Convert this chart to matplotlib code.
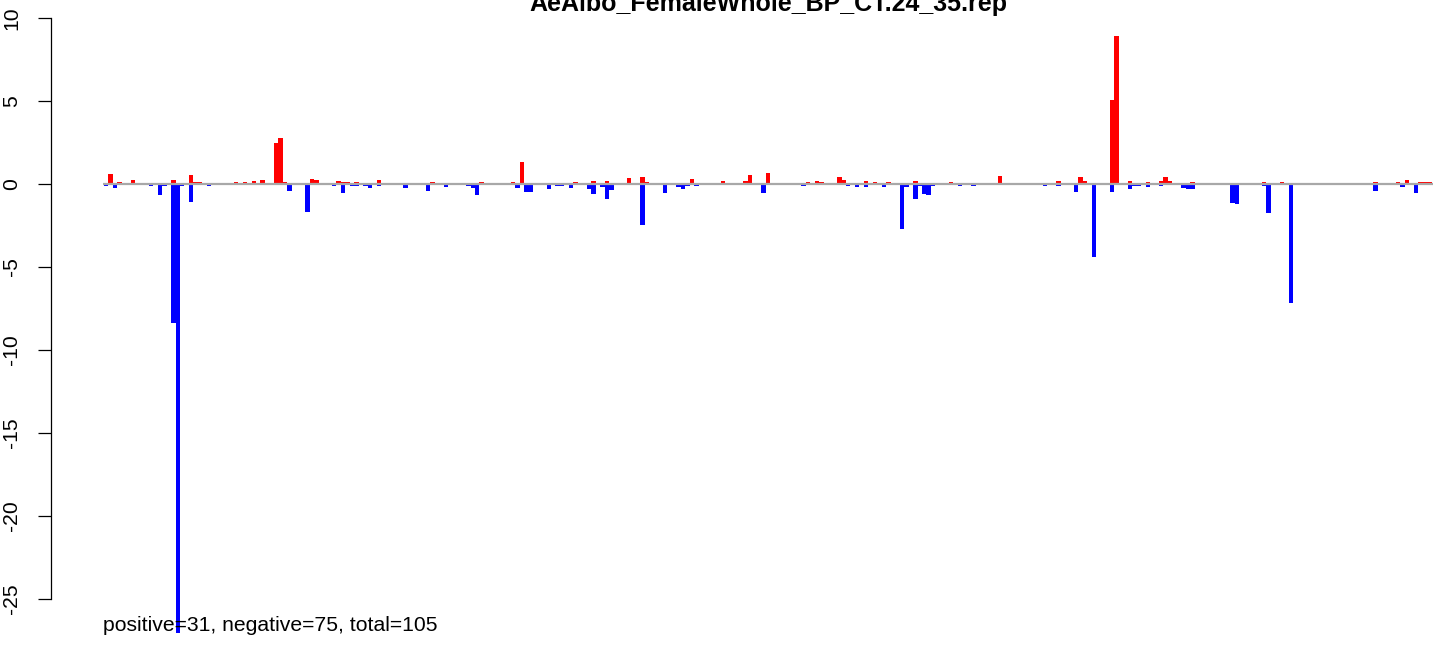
import matplotlib
matplotlib.use("Agg")
import matplotlib.pyplot as plt
import numpy as np

plt.rcParams['font.family'] = ['Liberation Sans', 'DejaVu Sans']
plt.rcParams['axes.unicode_minus'] = False

title = "AeAlbo_FemaleWhole_BP_CT.24_35.rep"
note = "positive=31, negative=75, total=105"
n_slots = 297

# positive (red) bars: slot index -> value
pos_idx = [1, 3, 6, 15, 19, 20, 21, 29, 31, 33, 35, 38, 39, 40, 46, 47,
           52, 53, 54, 56, 61, 73, 84, 91, 93,
           105, 109, 112, 117, 120, 121, 131, 138, 143, 144,
           148, 157, 159, 160, 164, 165, 170, 172, 175, 181, 189,
           200, 213, 218, 219, 225, 226, 229, 233, 236, 237, 238, 243,
           259, 263, 284, 289, 291, 294, 295, 296]
pos_val = [0.60, 0.12, 0.22, 0.22, 0.52, 0.12, 0.12, 0.12, 0.12, 0.18, 0.24, 2.47, 2.77, 0.12, 0.28, 0.22,
           0.16, 0.10, 0.10, 0.10, 0.22, 0.10, 0.10, 0.10, 1.31,
           0.10, 0.16, 0.16, 0.34, 0.40, 0.10, 0.28, 0.16, 0.16, 0.52,
           0.64, 0.10, 0.16, 0.10, 0.40, 0.22, 0.16, 0.10, 0.10, 0.16, 0.10,
           0.46, 0.16, 0.40, 0.16, 5.05, 8.90, 0.16, 0.10, 0.16, 0.40, 0.16, 0.10,
           0.10, 0.10, 0.10, 0.10, 0.22, 0.10, 0.10, 0.10]

# negative (blue) bars: slot index -> value
neg_idx = [0, 2, 10, 12, 13, 15, 16, 17, 19, 23, 41, 45,
           51, 53, 55, 56, 58, 59, 61, 67, 72, 76, 81, 82, 83, 92, 94, 95,
           99, 101, 102, 104, 108, 109, 111, 112, 113, 120, 125, 128, 129, 130, 132, 147,
           156, 166, 168, 170, 174, 178, 179, 181, 182, 183, 184, 185, 191, 194,
           210, 213, 217, 221, 225, 229, 230, 231, 233, 236, 241, 242, 243,
           252, 253, 259, 260, 265, 284, 290, 293]
neg_val = [-0.15, -0.26, -0.14, -0.68, -0.14, -8.40, -27.05, -0.14, -1.10, -0.14, -0.42, -1.69,
           -0.12, -0.54, -0.12, -0.12, -0.12, -0.24, -0.12, -0.24, -0.42, -0.18, -0.12, -0.24, -0.68, -0.24, -0.48, -0.48,
           -0.30, -0.12, -0.12, -0.24, -0.30, -0.60, -0.18, -0.90, -0.36, -2.47, -0.54, -0.18, -0.30, -0.12, -0.12, -0.54,
           -0.12, -0.12, -0.18, -0.18, -0.18, -2.71, -0.18, -0.90, -0.12, -0.60, -0.66, -0.12, -0.12, -0.12,
           -0.12, -0.12, -0.48, -4.40, -0.48, -0.30, -0.12, -0.12, -0.18, -0.12, -0.24, -0.30, -0.30,
           -1.14, -1.20, -0.12, -1.75, -7.17, -0.42, -0.18, -0.54]

y_ticks = [10, 5, 0, -5, -10, -15, -20, -25]

W, H = 1444, 645
fig = plt.figure(figsize=(W / 100, H / 100), dpi=100)

# pixel layout
axis_x = 51
slot_px = 4.47
first_px = 104
zero_px = 184
unit_px = 16.6

ax = fig.add_axes([axis_x / W, 0, (W - axis_x) / W, 1])
xmin = -(first_px - axis_x) / slot_px
xmax = xmin + (W - axis_x) / slot_px
ax.set_xlim(xmin, xmax)
ax.set_ylim(-(H - zero_px) / unit_px, zero_px / unit_px)

ax.bar(np.array(pos_idx) + 0.5, pos_val, width=1.0, color='#ff0000', linewidth=0, zorder=2)
ax.bar(np.array(neg_idx) + 0.5, neg_val, width=1.0, color='#0000ff', linewidth=0, zorder=2)
ax.plot([-0.3, n_slots + 0.3], [0, 0], color='#a8a8a8', linewidth=1.6, zorder=3, solid_capstyle='butt')

for s in ['top', 'right', 'bottom']:
    ax.spines[s].set_visible(False)
ax.spines['left'].set_bounds(-25, 10)
ax.spines['left'].set_linewidth(0.9)
ax.set_xticks([])
ax.set_yticks(y_ticks)
ax.set_yticklabels([str(v) for v in y_ticks], rotation=90, va='center', ha='right',
                   fontsize=15.2)
ax.tick_params(axis='y', length=9.4, width=0.9, pad=12, direction='out')
ax.patch.set_alpha(0)

fig.text(768 / W, 1 - 11 / H, title, ha='center', va='baseline', fontsize=18, fontweight='bold')
fig.text(103 / W, 1 - 631 / H, note, ha='left', va='baseline', fontsize=15.25)

fig.savefig("out.png", dpi=100)
